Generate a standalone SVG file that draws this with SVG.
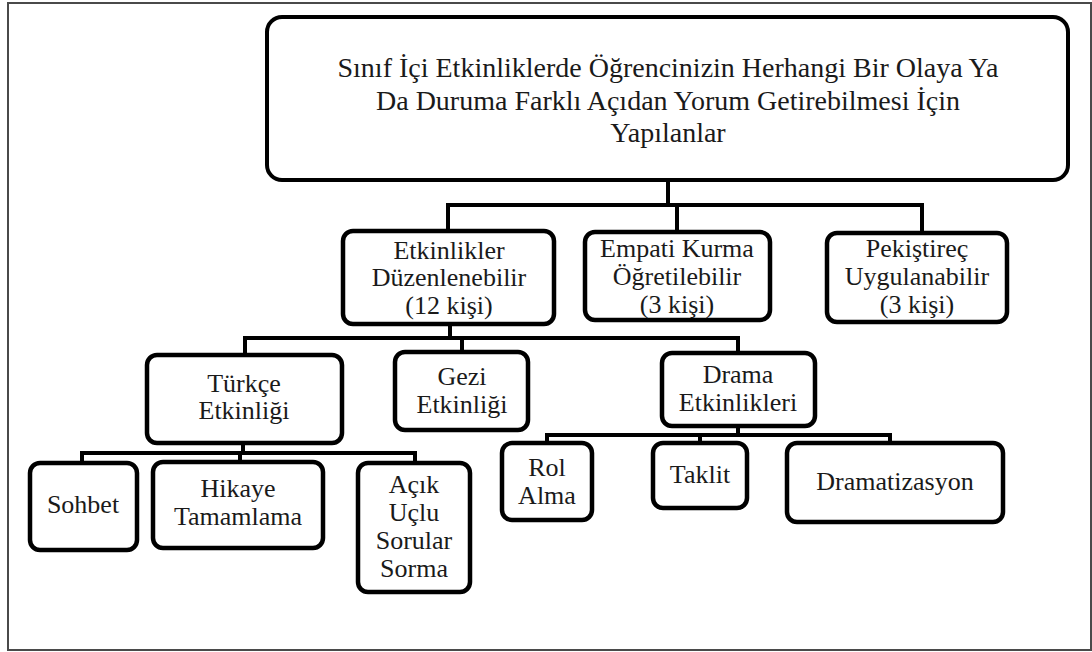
<svg xmlns="http://www.w3.org/2000/svg" width="1092" height="652" viewBox="0 0 1092 652">
  <style>
    .frame { fill: #ffffff; stroke: #4a4a4a; stroke-width: 2; }
    .box { fill: #ffffff; stroke: #000000; stroke-width: 4.5; }
    .root { fill: #ffffff; stroke: #000000; stroke-width: 4; }
    .link { fill: none; stroke: #000000; stroke-width: 4; stroke-linecap: square; }
  </style>

  <rect class="frame" x="8" y="3" width="1083" height="647"/>

  <!-- tree connectors -->
  <g id="connectors">
    <path class="link" d="M668 180 V205 M448 205 H922 M448 205 V231 M677 205 V232 M922 205 V233"/>
    <path class="link" d="M450 324 V338 M245 338 H738 M245 338 V355 M462 338 V352 M738 338 V353"/>
    <path class="link" d="M243 443 V453 M82 453 H415 M82 453 V463 M240 453 V462 M415 453 V463"/>
    <path class="link" d="M738 426 V435 M547 435 H890 M547 435 V443 M700 435 V443 M890 435 V443"/>
  </g>

  <g font-family="Liberation Serif, serif" font-size="26" fill="#1a1a1a" text-anchor="middle">
  <g id="root">
    <rect class="root" x="267" y="17" width="801" height="163" rx="15"/>
    <text x="668" y="77" font-size="28">Sınıf İçi Etkinliklerde Öğrencinizin Herhangi Bir Olaya Ya</text>
    <text x="668" y="110" font-size="28">Da Duruma Farklı Açıdan Yorum Getirebilmesi İçin</text>
    <text x="668" y="142" font-size="28">Yapılanlar</text>
  </g>

  <g id="etkinlikler">
    <rect class="box" x="343" y="231" width="211" height="93" rx="10"/>
    <text x="449" y="259">Etkinlikler</text>
    <text x="449" y="286">Düzenlenebilir</text>
    <text x="449" y="314">(12 kişi)</text>
  </g>

  <g id="empati">
    <rect class="box" x="585" y="232" width="185" height="88" rx="10"/>
    <text x="677" y="257">Empati Kurma</text>
    <text x="677" y="285">Öğretilebilir</text>
    <text x="677" y="313">(3 kişi)</text>
  </g>

  <g id="pekistirec">
    <rect class="box" x="827" y="233" width="180" height="89" rx="10"/>
    <text x="917" y="257">Pekiştireç</text>
    <text x="917" y="285">Uygulanabilir</text>
    <text x="917" y="313">(3 kişi)</text>
  </g>

  <g id="turkce">
    <rect class="box" x="147" y="355" width="195" height="88" rx="10"/>
    <text x="244" y="392">Türkçe</text>
    <text x="244" y="419">Etkinliği</text>
  </g>

  <g id="gezi">
    <rect class="box" x="395" y="352" width="133" height="78" rx="10"/>
    <text x="462" y="385">Gezi</text>
    <text x="462" y="413">Etkinliği</text>
  </g>

  <g id="drama">
    <rect class="box" x="662" y="353" width="153" height="73" rx="10"/>
    <text x="738" y="383">Drama</text>
    <text x="738" y="411">Etkinlikleri</text>
  </g>

  <g id="sohbet">
    <rect class="box" x="30" y="463" width="107" height="87" rx="10"/>
    <text x="83" y="513">Sohbet</text>
  </g>

  <g id="hikaye">
    <rect class="box" x="153" y="462" width="170" height="86" rx="10"/>
    <text x="238" y="497">Hikaye</text>
    <text x="238" y="525">Tamamlama</text>
  </g>

  <g id="acik-uclu">
    <rect class="box" x="358" y="463" width="112" height="129" rx="10"/>
    <text x="414" y="493">Açık</text>
    <text x="414" y="521">Uçlu</text>
    <text x="414" y="549">Sorular</text>
    <text x="414" y="577">Sorma</text>
  </g>

  <g id="rol-alma">
    <rect class="box" x="502" y="443" width="90" height="77" rx="10"/>
    <text x="547" y="476">Rol</text>
    <text x="547" y="504">Alma</text>
  </g>

  <g id="taklit">
    <rect class="box" x="653" y="443" width="94" height="65" rx="10"/>
    <text x="700" y="483">Taklit</text>
  </g>

  <g id="dramatizasyon">
    <rect class="box" x="787" y="443" width="216" height="79" rx="10"/>
    <text x="895" y="490">Dramatizasyon</text>
  </g>
  </g>
</svg>
